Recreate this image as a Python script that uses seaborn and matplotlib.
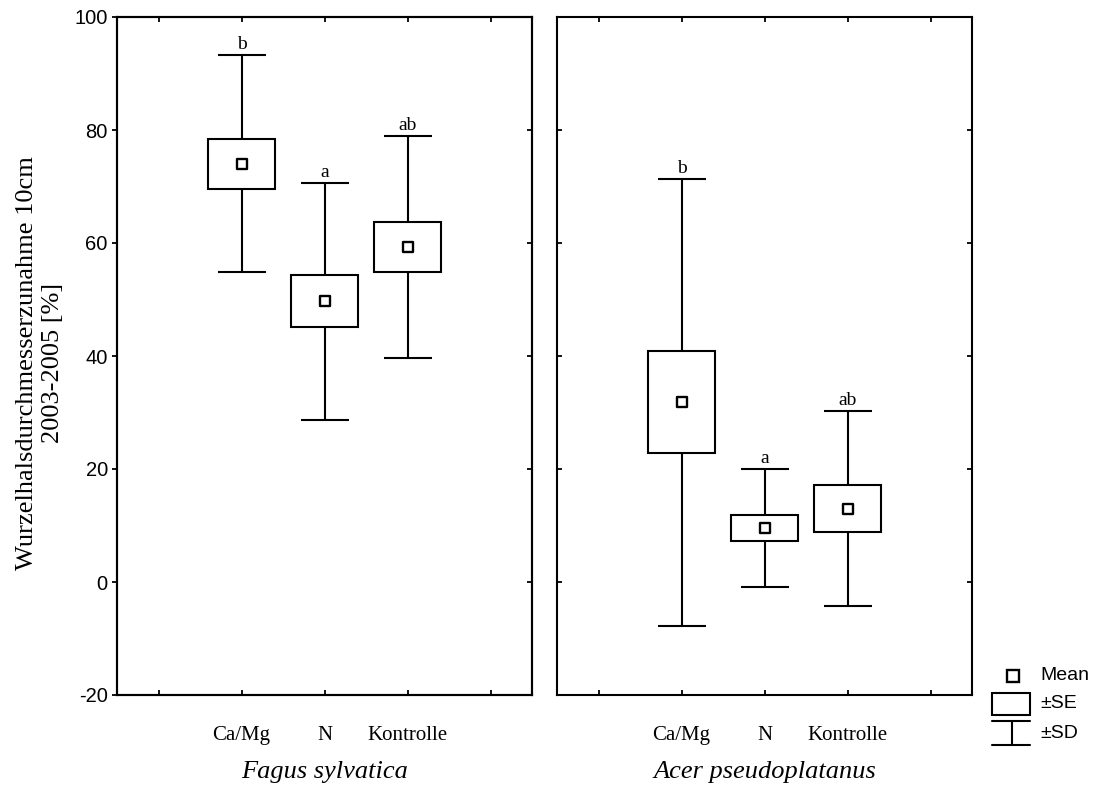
import numpy as np
import pandas as pd
import matplotlib
matplotlib.use("Agg")
import matplotlib.pyplot as plt
import seaborn as sns

# ---- data ----
categories = ["Ca/Mg", "N", "Kontrolle"]
species = ["Fagus sylvatica", "Acer pseudoplatanus"]
fagus_mean = [74.0, 49.7, 59.3]
fagus_se = [4.4, 4.65, 4.4]
fagus_sd = [19.2, 20.95, 19.7]
fagus_letters = ["b", "a", "ab"]
acer_mean = [31.8, 9.6, 13.0]
acer_se = [9.05, 2.3, 4.1]
acer_sd = [39.6, 10.45, 17.2]
acer_letters = ["b", "a", "ab"]
y_ticks = [-20, 0, 20, 40, 60, 80, 100]
ylabel = "Wurzelhalsdurchmesserzunahme 10cm\n2003-2005 [%]"

sns.set_theme(style="ticks", rc={"axes.edgecolor": "black", "xtick.color": "black",
                                 "ytick.color": "black", "text.color": "black",
                                 "axes.labelcolor": "black"})
plt.rcParams["font.family"] = ["Liberation Serif", "DejaVu Serif"]
plt.rcParams["axes.linewidth"] = 1.5

W, H = 1096, 792
fig = plt.figure(figsize=(W / 100, H / 100), dpi=100)

def px_axes(x0, y0, x1, y1):
    return fig.add_axes([x0 / W, 1 - y1 / H, (x1 - x0) / W, (y1 - y0) / H])

ax_l = px_axes(117, 17, 532, 695)
ax_r = px_axes(557, 17, 972, 695)

sans = ["Liberation Sans", "DejaVu Sans"]
serif = ["Liberation Serif", "DejaVu Serif"]

panels = [
    (ax_l, species[0], fagus_mean, fagus_se, fagus_sd, fagus_letters, True),
    (ax_r, species[1], acer_mean, acer_se, acer_sd, acer_letters, False),
]

for ax, sp, mean, se, sd, letters, show_y in panels:
    x = np.arange(1, len(categories) + 1)
    mean = np.array(mean)
    se = np.array(se)
    sd = np.array(sd)
    # SD whiskers
    ax.errorbar(x, mean, yerr=sd, fmt="none", ecolor="black", elinewidth=1.5,
                capsize=17, capthick=1.5, zorder=2)
    # SE boxes
    ax.bar(x, 2 * se, bottom=mean - se, width=0.8, facecolor="white",
           edgecolor="black", linewidth=1.5, zorder=3)
    # means
    df = pd.DataFrame({"x": x, "mean": mean, "cat": categories})
    sns.scatterplot(data=df, x="x", y="mean", marker="s", s=44,
                    facecolor="white", edgecolor="black", linewidth=1.7,
                    zorder=4, ax=ax, legend=False)
    # letters
    for xi, top, lt in zip(x, mean + sd, letters):
        ax.annotate(lt, (xi, top), xytext=(0, 1.5), textcoords="offset points",
                    ha="center", va="bottom", fontsize=14, family=serif,
                    color="black")

    ax.set_xlim(-0.5, 4.5)
    ax.set_ylim(-20, 100)
    ax.set_xticks([0, 1, 2, 3, 4])
    ax.set_xticklabels([""] + categories + [""], family=serif, fontsize=15)
    ax.tick_params(axis="x", direction="in", top=True, bottom=True,
                   length=3.6, width=1.3, pad=22, colors="black")
    ax.set_yticks(y_ticks)
    ax.set_xlabel("")
    ax.set_ylabel("")
    for s in ax.spines.values():
        s.set_visible(True)
        s.set_linewidth(1.5)
        s.set_color("black")
    if show_y:
        ax.set_yticklabels([str(v) for v in y_ticks], family=sans, fontsize=14.5)
        ax.tick_params(axis="y", direction="out", left=True, right=False,
                       length=3.6, width=1.3, pad=3, colors="black")
        tw = ax.twinx()
        tw.set_ylim(ax.get_ylim())
        tw.set_yticks(y_ticks)
        tw.tick_params(axis="y", direction="in", right=True, left=False,
                       labelright=False, length=3.6, width=1.3, colors="black")
        tw.grid(False)
        for s in tw.spines.values():
            s.set_color("black")
            s.set_linewidth(1.5)
    else:
        ax.tick_params(axis="y", direction="in", left=True, right=True,
                       labelleft=False, length=3.6, width=1.3, colors="black")
    ax.grid(False)
    ax.text(0.5, -0.1136, sp, transform=ax.transAxes, ha="center", va="center",
            fontsize=19, style="italic", family=serif, color="black")

# y label
fig.text(40 / W, 1 - 363 / H, ylabel, rotation=90, ha="center", va="center",
         fontsize=19, family=serif, linespacing=1.2, multialignment="center",
         color="black")

# legend (key)
lg = fig.add_axes([0, 0, 1, 1], facecolor="none")
lg.set_xlim(0, W)
lg.set_ylim(H, 0)
lg.axis("off")
lg.plot([1013], [676], marker="s", markersize=8, markerfacecolor="white",
        markeredgecolor="black", markeredgewidth=1.7, linestyle="none")
lg.add_patch(plt.Rectangle((992, 693), 38, 22, facecolor="white",
                           edgecolor="black", linewidth=1.5))
lg.plot([992, 1030], [721, 721], color="black", lw=1.5)
lg.plot([992, 1030], [745, 745], color="black", lw=1.5)
lg.plot([1012, 1012], [721, 745], color="black", lw=1.5)
for ty, t in [(676, "Mean"), (704, "\u00b1SE"), (733, "\u00b1SD")]:
    lg.text(1040, ty, t, ha="left", va="center", fontsize=14, family=sans,
            color="black")

fig.savefig("out.png", dpi=100, facecolor="white")
